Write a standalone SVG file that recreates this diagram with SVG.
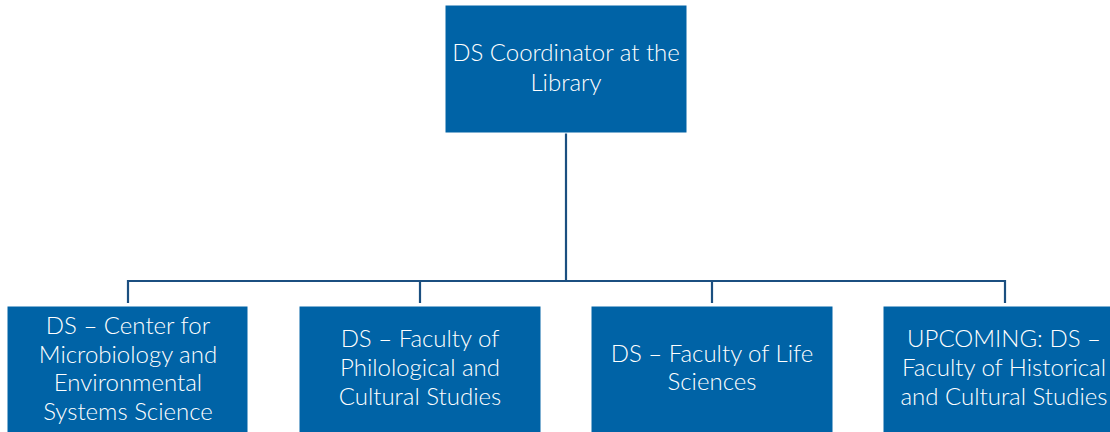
<svg xmlns="http://www.w3.org/2000/svg" width="1110" height="432" viewBox="0 0 1110 432">
<style>
.box{fill:#0063a6;stroke:#ffffff;stroke-width:1}
.t{font-family:Lato,"Open Sans","Liberation Sans",sans-serif;font-size:24px;font-weight:300;fill:#ffffff;text-anchor:middle}
.c{fill:none;stroke:#1b4f80;stroke-width:2.2}
</style>
<rect width="1110" height="432" fill="#ffffff"/>
<g id="connectors">
<path class="c" d="M566 133V281M128 281H1005M128 280V303M420 280V303M712 280V303M1005 280V303"/>
</g>
<g id="top">
<rect class="box" x="445" y="5" width="242" height="128"/>
<text class="t" x="566" y="61">DS Coordinator at the</text>
<text class="t" x="566" y="91">Library</text>
</g>
<g id="n1">
<rect class="box" x="7" y="306" width="241" height="130"/>
<text class="t" x="128" y="334">DS – Center for</text>
<text class="t" x="128" y="363">Microbiology and</text>
<text class="t" x="128" y="391">Environmental</text>
<text class="t" x="128" y="420">Systems Science</text>
</g>
<g id="n2">
<rect class="box" x="299" y="306" width="242" height="130"/>
<text class="t" x="420" y="347">DS – Faculty of</text>
<text class="t" x="420" y="376">Philological and</text>
<text class="t" x="420" y="405">Cultural Studies</text>
</g>
<g id="n3">
<rect class="box" x="591" y="306" width="242" height="130"/>
<text class="t" x="712" y="362">DS – Faculty of Life</text>
<text class="t" x="712" y="390">Sciences</text>
</g>
<g id="n4">
<rect class="box" x="883" y="306" width="242" height="130"/>
<text class="t" x="1004" y="347">UPCOMING: DS –</text>
<text class="t" x="1004" y="376">Faculty of Historical</text>
<text class="t" x="1004" y="405">and Cultural Studies</text>
</g>
</svg>
